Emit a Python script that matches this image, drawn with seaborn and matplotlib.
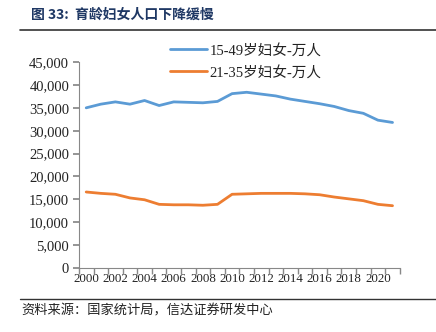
import matplotlib
matplotlib.use("Agg")
import matplotlib.pyplot as plt
import seaborn as sns
import pandas as pd
import numpy as np

years = list(range(2000, 2022))
women_15_49 = [35.0, 35.8, 36.3, 35.8, 36.6, 35.5, 36.3, 36.2, 36.1, 36.4, 38.1,
               38.4, 38.0, 37.6, 36.9, 36.4, 35.9, 35.3, 34.4, 33.8, 32.3, 31.8]
women_21_35 = [16.6, 16.3, 16.1, 15.3, 14.9, 13.9, 13.8, 13.8, 13.7, 13.9, 16.1,
               16.2, 16.3, 16.3, 16.3, 16.2, 16.0, 15.5, 15.1, 14.7, 13.9, 13.6]
women_15_49 = [v * 1000 for v in women_15_49]
women_21_35 = [v * 1000 for v in women_21_35]
series_names = ["15-49岁妇女-万人", "21-35岁妇女-万人"]
yticks = list(range(0, 45001, 5000))
xtick_years = list(range(2000, 2021, 2))

sns.set_theme(style="white")
fam = ["Liberation Serif", "Noto Sans CJK SC"]
plt.rcParams["font.family"] = fam

df = pd.DataFrame({"year": years * 2,
                   "value": women_15_49 + women_21_35,
                   "series": [series_names[0]] * len(years) + [series_names[1]] * len(years)})

fig = plt.figure(figsize=(4.36, 3.32), dpi=100)
ax = fig.add_axes([0.181, 0.193, 0.736, 0.62])
sns.lineplot(data=df, x="year", y="value", hue="series",
             palette=["#5B9BD5", "#ED7D31"], linewidth=2, ax=ax, legend=True)

ax.set_xlim(1999.5, 2021.5)
ax.set_ylim(0, 45000)
ax.set_yticks(yticks)
ax.set_yticklabels([f"{v:,}" for v in yticks], fontsize=10.5, color="#222222")
ax.set_xticks(xtick_years)
ax.set_xticklabels([str(y) for y in xtick_years], fontsize=9.3, color="#222222")
ax.set_xticks(np.arange(1999.5, 2022, 1), minor=True)
ax.tick_params(axis="x", which="major", length=0, pad=4)
ax.tick_params(axis="x", which="minor", length=4, direction="out", color="#888888", bottom=True)
ax.tick_params(axis="y", which="major", length=4, direction="out", color="#888888", left=True, pad=3)
ax.set_xlabel("")
ax.set_ylabel("")
for s in ["top", "right"]:
    ax.spines[s].set_visible(False)
for s in ["left", "bottom"]:
    ax.spines[s].set_color("#888888")
    ax.spines[s].set_linewidth(0.8)

leg = ax.legend(loc="upper center", bbox_to_anchor=(0.52, 1.155), frameon=False,
                fontsize=10.5, handlelength=2.5, labelspacing=0.55, handletextpad=0.2,
                title=None)
for t in leg.get_texts():
    t.set_color("#222222")

fig.text(0.07, 0.955, "图 33:  育龄妇女人口下降缓慢", fontsize=10, fontweight="bold",
         color="#1F3864", family=["Noto Sans CJK SC"], va="center")
fig.add_artist(plt.Line2D([0.046, 1.0], [0.911, 0.911], color="#333333", linewidth=1.2))
fig.add_artist(plt.Line2D([0.046, 1.0], [0.099, 0.099], color="#333333", linewidth=1.0))
fig.text(0.05, 0.064, "资料来源：国家统计局，信达证券研发中心", fontsize=9.5,
         color="#222222", family=["Noto Sans CJK SC"], va="center")

fig.savefig("out.png", dpi=100)
